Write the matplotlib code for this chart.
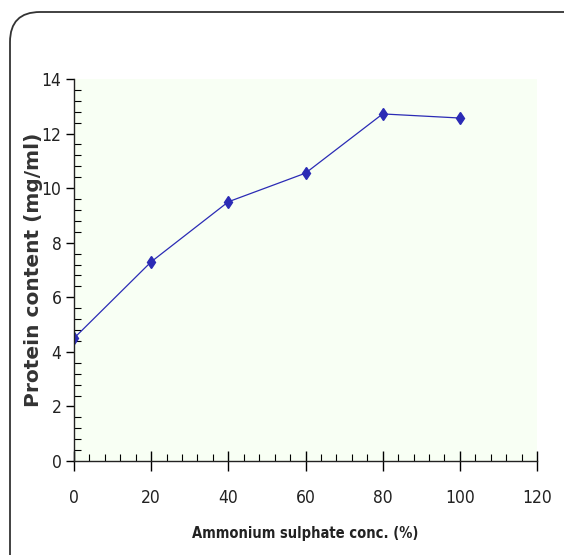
import matplotlib
matplotlib.use("Agg")
import matplotlib.pyplot as plt
from matplotlib import font_manager
from matplotlib.patches import FancyBboxPatch
from matplotlib.ticker import MultipleLocator
from matplotlib.transforms import IdentityTransform

# datos
conc = [0, 20, 40, 60, 80, 100]
proteina = [4.5, 7.3, 9.5, 10.55, 12.72, 12.57]

xticks = [0, 20, 40, 60, 80, 100, 120]
yticks = [0, 2, 4, 6, 8, 10, 12, 14]

azul = "#2B2BB5"
gris = "#222222"

# buscar una fuente estrecha si existe
estrecha = None
for fam, st in [("Liberation Sans Narrow", "normal"), ("DejaVu Sans", "condensed")]:
    fp = font_manager.FontProperties(family=fam, stretch=st, weight="bold")
    try:
        ruta = font_manager.findfont(fp, fallback_to_default=False)
    except Exception:
        ruta = ""
    if "Narrow" in ruta or "Condensed" in ruta:
        estrecha = (fam, st)
        break

fig = plt.figure(figsize=(5.64, 5.55), dpi=100)

# marco redondeado (en pixeles, origen abajo a la izquierda)
marco = FancyBboxPatch((10, -40), 620, 555 - 12 + 40,
                       boxstyle="round,pad=0,rounding_size=30",
                       transform=IdentityTransform(), facecolor="none",
                       edgecolor="#333333", linewidth=1.3, clip_on=False)
fig.patches.append(marco)

ax = fig.add_axes([74 / 564, 1 - 461 / 555, (537 - 74) / 564, (461 - 79) / 555])
ax.set_facecolor("#F8FFF4")
ax.plot(conc, proteina, color=azul, linewidth=0.9, marker="d",
        markersize=6, markeredgecolor=azul, markerfacecolor=azul)

ax.set_xlim(0, 120)
ax.set_ylim(0, 14)
ax.set_xticks(xticks)
ax.set_yticks(yticks)
ax.xaxis.set_minor_locator(MultipleLocator(4))
ax.yaxis.set_minor_locator(MultipleLocator(0.4))

for s in ["top", "right"]:
    ax.spines[s].set_visible(False)
for s in ["left", "bottom"]:
    ax.spines[s].set_color(gris)
    ax.spines[s].set_linewidth(1.0)

ax.tick_params(axis="x", which="major", direction="inout", length=15, width=1, pad=13)
ax.tick_params(axis="x", which="minor", direction="in", length=5, width=0.8)
ax.tick_params(axis="y", which="major", direction="out", length=6, width=1, pad=3)
ax.tick_params(axis="y", which="minor", direction="in", length=5, width=0.8)

if estrecha:
    fam_num, st_num, tam_num, tam_xl = estrecha[0], estrecha[1], 12.5, 10.5
else:
    fam_num, st_num, tam_num, tam_xl = "Liberation Sans", "normal", 12.5, 10.5

for lab in ax.get_xticklabels() + ax.get_yticklabels():
    lab.set_family(fam_num)
    lab.set_stretch(st_num)
    lab.set_fontsize(tam_num)
    lab.set_color(gris)

ax.set_xlabel("Ammonium sulphate conc. (%)", family=fam_num, stretch=st_num,
              fontsize=tam_xl, fontweight="bold", color=gris)
ax.set_ylabel("Protein content (mg/ml)", family="DejaVu Sans", fontsize=14.5,
              fontweight="bold", color="#333333")
ax.xaxis.set_label_coords(0.499, -0.170)
ax.yaxis.set_label_coords(-0.068, 0.5)

fig.savefig("out.png", dpi=100)
